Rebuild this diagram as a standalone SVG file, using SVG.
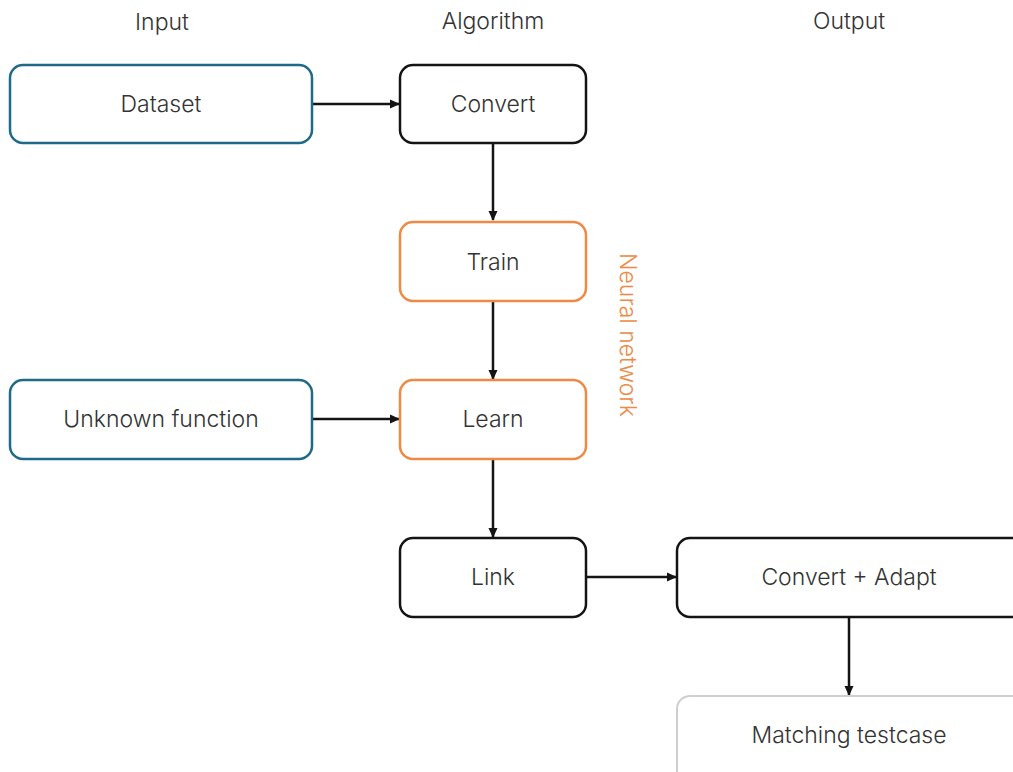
<svg xmlns="http://www.w3.org/2000/svg" width="1013" height="772" viewBox="0 0 1013 772">
  <style>
    .box { fill: #ffffff; stroke-width: 2.5; }
    .in { stroke: #1f6a88; }
    .alg { stroke: #141414; }
    .nn { stroke: #ee8a45; }
    .out { stroke: #cfcfcf; stroke-width: 2; }
    text { font-family: Inter, "Liberation Sans", Arial, sans-serif; font-weight: 300; font-size: 23px; }
    .lbl { fill: #333333; text-anchor: middle; dominant-baseline: central; }
    .hdr { fill: #333333; text-anchor: middle; }
    .edge { stroke: #141414; stroke-width: 2.5; fill: none; marker-end: url(#arrow); }
  </style>
  <defs>
    <marker id="arrow" markerWidth="10" markerHeight="10" refX="9" refY="5" orient="auto" markerUnits="userSpaceOnUse">
      <path d="M0,0.5 L10,5 L0,9.5 z" fill="#141414"/>
    </marker>
  </defs>
  <rect width="1013" height="772" fill="#ffffff"/>

  <!-- column headers -->
  <text class="hdr" x="162" y="30">Input</text>
  <text class="hdr" x="493" y="29">Algorithm</text>
  <text class="hdr" x="849" y="29">Output</text>

  <!-- neural network annotation -->
  <text x="628" y="335" fill="#ee8a45" text-anchor="middle" dominant-baseline="central" transform="rotate(90 628 335)">Neural network</text>

  <g id="connectors">
    <line class="edge" x1="312" y1="104" x2="399" y2="104"/>
    <line class="edge" x1="493" y1="143" x2="493" y2="220"/>
    <line class="edge" x1="493" y1="301" x2="493" y2="379"/>
    <line class="edge" x1="312" y1="419" x2="399" y2="419"/>
    <line class="edge" x1="493" y1="459" x2="493" y2="537"/>
    <line class="edge" x1="586" y1="577" x2="676" y2="577"/>
    <line class="edge" x1="849" y1="617" x2="849" y2="695"/>
  </g>

  <g id="dataset">
    <rect class="box in" x="10" y="65" width="302" height="78" rx="13"/>
    <text class="lbl" x="161" y="104">Dataset</text>
  </g>
  <g id="convert">
    <rect class="box alg" x="400" y="65" width="186" height="78" rx="13"/>
    <text class="lbl" x="493" y="104">Convert</text>
  </g>
  <g id="train">
    <rect class="box nn" x="400" y="222" width="186" height="79" rx="13"/>
    <text class="lbl" x="493" y="262">Train</text>
  </g>
  <g id="unknown-function">
    <rect class="box in" x="10" y="380" width="302" height="79" rx="13"/>
    <text class="lbl" x="161" y="419">Unknown function</text>
  </g>
  <g id="learn">
    <rect class="box nn" x="400" y="380" width="186" height="79" rx="13"/>
    <text class="lbl" x="493" y="419">Learn</text>
  </g>
  <g id="link">
    <rect class="box alg" x="400" y="538" width="186" height="79" rx="13"/>
    <text class="lbl" x="493" y="577">Link</text>
  </g>
  <g id="convert-adapt">
    <rect class="box alg" x="677" y="538" width="350" height="79" rx="13"/>
    <text class="lbl" x="849" y="577">Convert + Adapt</text>
  </g>
  <g id="matching-testcase">
    <rect class="box out" x="677" y="696" width="350" height="90" rx="13"/>
    <text class="lbl" x="849" y="735">Matching testcase</text>
  </g>
</svg>
